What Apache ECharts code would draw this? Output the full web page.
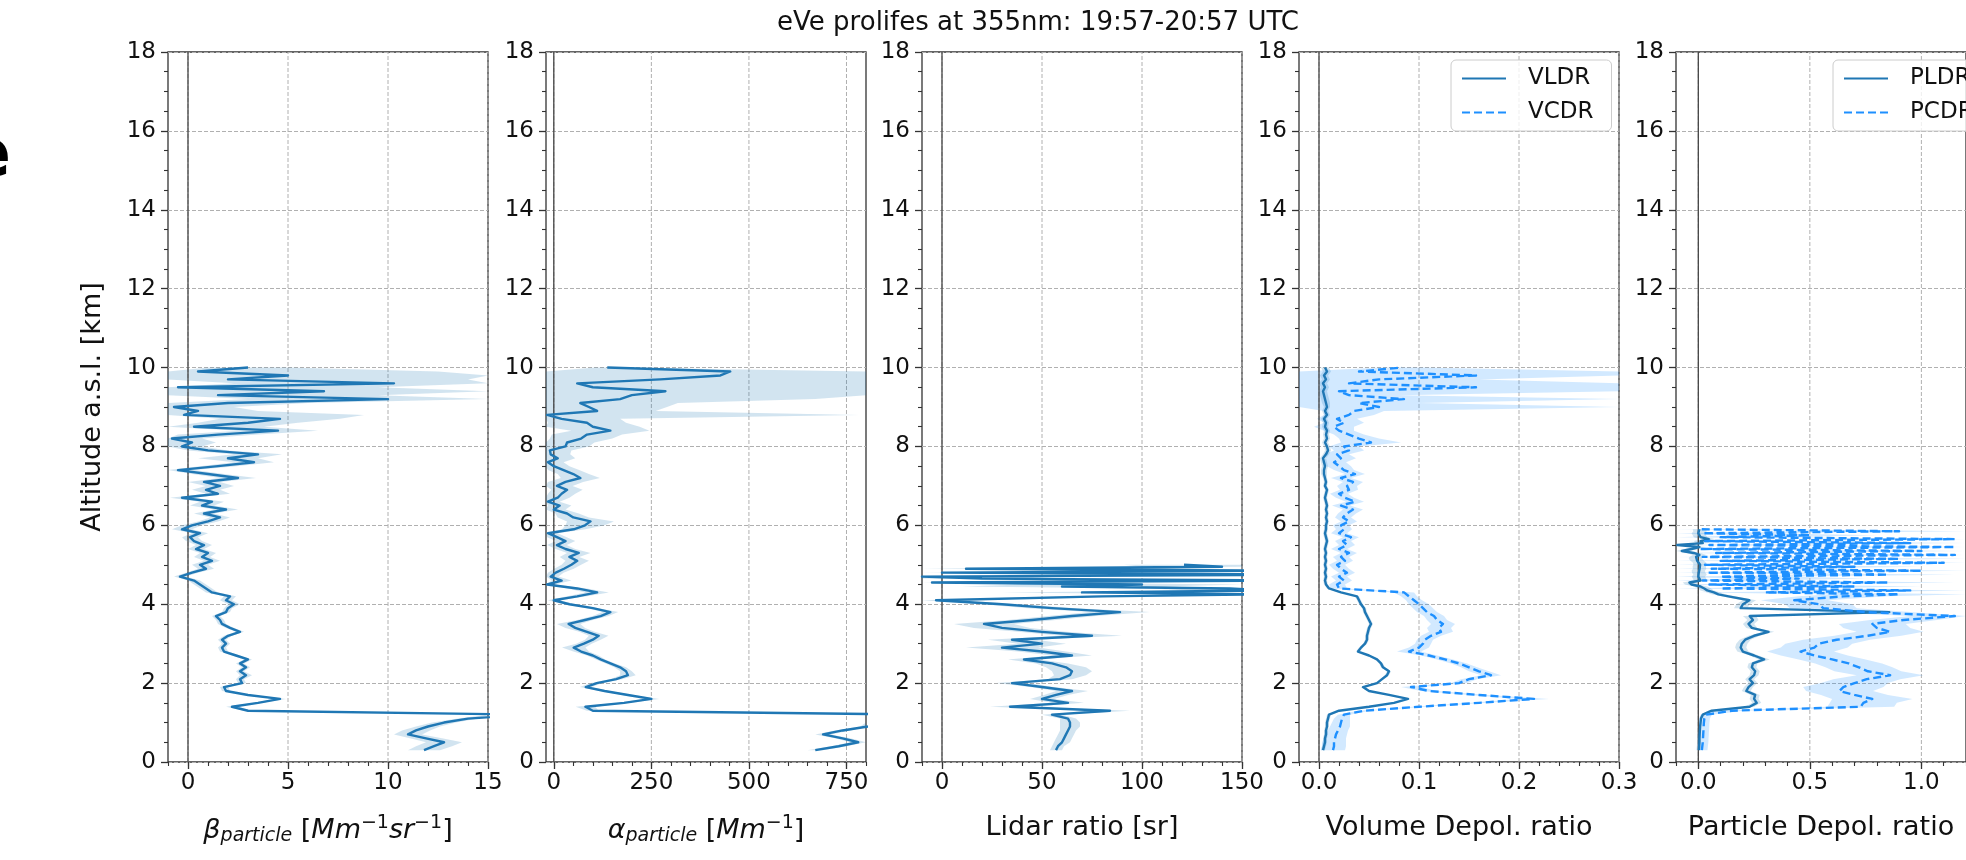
<!DOCTYPE html>
<html><head><meta charset="utf-8">
<script src="https://cdn.jsdelivr.net/npm/echarts@6/dist/echarts.min.js"></script>
<style>html,body{margin:0;padding:0;background:#fff}#c{width:1966px;height:860px}</style>
</head><body><div id="c"></div>
<script>
// ---------------- DATA ----------------
const titleText = 'eVe prolifes at 355nm: 19:57-20:57 UTC';
const altTicks = [0, 2, 4, 6, 8, 10, 12, 14, 16, 18];

// altitude grids [km]
const altMain = [
  0.3,0.4,0.5,0.6,0.7,0.8,0.9,1.0,1.1,1.2,
  1.3,1.4,1.5,1.6,1.7,1.8,1.9,2.0,2.1,2.2,
  2.3,2.4,2.5,2.6,2.7,2.8,2.9,3.0,3.1,3.2,
  3.3,3.4,3.5,3.6,3.7,3.8,3.9,4.0,4.1,4.2,
  4.3,4.4,4.5,4.6,4.7,4.8,4.9,5.0,5.1,5.2,
  5.3,5.4,5.5,5.6,5.7,5.8,5.9,6.0,6.1,6.2,
  6.3,6.4,6.5,6.6,6.7,6.8,6.9,7.0,7.1,7.2,
  7.3,7.4,7.5,7.6,7.7,7.8,7.9,8.0,8.1,8.2,
  8.3,8.4,8.5,8.6,8.7,8.8,8.9,9.0,9.1,9.2,
  9.3,9.4,9.5,9.6,9.7,9.8,9.9,10.0];
const altLR = [
  0.3,0.4,0.5,0.6,0.7,0.8,0.9,1.0,1.1,1.2,
  1.3,1.4,1.5,1.6,1.7,1.8,1.9,2.0,2.1,2.2,
  2.3,2.4,2.5,2.6,2.7,2.8,2.9,3.0,3.1,3.2,
  3.3,3.4,3.5,3.6,3.7,3.8,3.9,4.0,4.1,4.2,
  4.25,4.3,4.35,4.4,4.45,4.5,4.55,4.6,4.65,4.7,
  4.75,4.8,4.85,4.9,4.95,5.0];
const altPDR = [
  0.3,0.4,0.5,0.6,0.7,0.8,0.9,1.0,1.1,1.2,
  1.3,1.4,1.5,1.6,1.7,1.8,1.9,2.0,2.1,2.2,
  2.3,2.4,2.5,2.6,2.7,2.8,2.9,3.0,3.1,3.2,
  3.3,3.4,3.5,3.6,3.7,3.8,3.9,4.0,4.1,4.2,
  4.25,4.3,4.35,4.4,4.45,4.5,4.55,4.6,4.65,4.7,
  4.75,4.8,4.85,4.9,4.95,5.0,5.05,5.1,5.15,5.2,
  5.25,5.3,5.35,5.4,5.45,5.5,5.55,5.6,5.65,5.7,
  5.75,5.8,5.85,5.9];

// backscatter coefficient [Mm-1 sr-1]
const beta = [
  11.8,12.3,12.8,11.9,11.0,11.4,12.0,12.8,14.0,17.0,
  3.0,2.2,3.5,4.6,3.0,1.9,1.8,2.7,2.6,2.9,
  2.6,2.9,2.6,3.0,2.4,1.8,1.7,1.9,1.7,2.0,
  2.6,2.1,1.7,1.6,1.4,1.9,2.0,2.3,1.9,2.1,
  1.2,0.9,0.6,0.3,-0.4,0.2,0.9,0.6,1.2,0.7,
  1.0,0.4,0.8,0.3,0.1,0.6,-0.3,0.2,1.0,1.6,
  0.8,1.9,0.7,1.2,-0.3,1.5,0.9,1.6,0.8,2.5,
  1.0,-0.5,1.5,3.3,2.0,3.5,1.0,-0.3,0.2,-0.8,
  1.5,4.5,0.3,3.0,4.6,-0.2,0.5,-0.7,2.0,10.0,
  1.5,6.8,-0.5,10.3,2.0,5.0,0.5,3.0];
const betaErr = [
  0.8,0.9,0.9,0.8,0.7,0.7,0.6,0.6,0.5,0.4,
  0.2,0.3,0.2,0.3,0.2,0.2,0.2,0.2,0.2,0.3,
  0.2,0.2,0.2,0.2,0.2,0.2,0.2,0.2,0.2,0.2,
  0.2,0.2,0.2,0.2,0.2,0.2,0.2,0.3,0.3,0.3,
  0.3,0.3,0.3,0.3,0.3,0.3,0.4,0.4,0.4,0.4,
  0.4,0.4,0.4,0.4,0.4,0.4,0.5,0.5,0.5,0.5,
  0.5,0.6,0.6,0.6,0.6,0.6,0.7,0.7,0.8,0.9,
  0.8,0.8,0.9,1.0,1.5,1.2,1.0,1.0,1.2,1.5,
  2.0,2.0,3.5,2.5,3.0,9.0,3.0,3.0,4.0,7.0,
  8.0,9.0,10.0,8.0,12.0,10.0,12.0,2.0];

// extinction coefficient [Mm-1]
const alpha = [
  670,730,780,740,690,740,805,850,900,950,
  100,81,180,250,190,130,82,110,160,190,
  185,170,145,120,100,70,51,77,100,115,
  85,55,38,80,120,145,100,40,0,60,
  111,60,-17,20,-8,5,26,45,60,40,
  64,30,8,30,8,-15,51,80,94,50,
  34,0,15,-15,10,20,34,8,30,68,
  50,25,0,-15,10,-8,-10,30,34,70,
  85,145,100,85,20,-17,111,90,68,170,
  200,286,100,60,273,427,452,137];
const alphaErr = [
  20,20,20,20,20,20,20,20,20,20,
  15,25,15,20,15,12,15,15,15,20,
  15,15,12,12,15,20,30,20,20,25,
  20,25,30,20,20,20,15,15,15,25,
  30,25,20,25,20,20,25,25,30,25,
  30,25,25,25,25,25,30,50,60,40,
  30,30,30,30,30,35,40,40,45,50,
  40,40,40,40,45,50,55,60,70,80,
  90,100,120,100,150,800,150,200,250,500,
  600,600,700,800,700,600,500,30];

// lidar ratio [sr]
const lidarRatio = [
  57,58,60,61,62,63,64,64,63,55,
  84,34,63,50,57,65,50,35,59,64,
  65,62,55,41,65,50,30,50,35,75,
  50,30,21,45,65,89,55,30,-3,80,
  160,70,165,144,60,100,-5,170,20,-10,
  180,0,170,12,140,121];
const lidarRatioErr = [
  3,3,4,4,4,4,5,5,4,5,
  10,10,8,6,6,8,6,8,6,8,
  10,10,8,8,10,12,18,12,12,15,
  12,14,15,12,12,15,12,10,10,20,
  40,40,40,40,50,60,40,50,40,50,
  40,50,50,40,40,30];

// volume depolarization ratios
const vldr = [
  0.004,0.005,0.006,0.006,0.007,0.007,0.008,0.008,0.009,0.010,
  0.020,0.050,0.075,0.089,0.070,0.050,0.044,0.058,0.063,0.068,
  0.070,0.064,0.062,0.058,0.050,0.039,0.042,0.046,0.048,0.048,
  0.049,0.050,0.052,0.050,0.048,0.046,0.045,0.042,0.040,0.038,
  0.022,0.010,0.007,0.006,0.007,0.006,0.007,0.006,0.007,0.006,
  0.007,0.006,0.007,0.008,0.007,0.006,0.007,0.007,0.008,0.007,
  0.008,0.007,0.008,0.007,0.006,0.007,0.008,0.006,0.007,0.006,
  0.005,0.005,0.006,0.005,0.004,0.007,0.009,0.008,0.006,0.008,
  0.007,0.008,0.006,0.007,0.005,0.008,0.006,0.008,0.007,0.006,
  0.005,0.004,0.006,0.004,0.007,0.005,0.008,0.006];
const vldrErr = [
  0.002,0.002,0.002,0.002,0.002,0.002,0.002,0.002,0.002,0.002,
  0.002,0.002,0.003,0.003,0.003,0.002,0.002,0.002,0.002,0.002,
  0.002,0.002,0.002,0.002,0.002,0.002,0.002,0.002,0.002,0.002,
  0.002,0.002,0.002,0.002,0.002,0.002,0.002,0.002,0.002,0.002,
  0.002,0.002,0.002,0.002,0.002,0.002,0.002,0.002,0.002,0.002,
  0.002,0.002,0.002,0.002,0.002,0.002,0.002,0.002,0.002,0.002,
  0.002,0.002,0.002,0.002,0.002,0.002,0.002,0.002,0.002,0.002,
  0.003,0.003,0.003,0.003,0.003,0.003,0.003,0.003,0.003,0.003,
  0.003,0.003,0.003,0.003,0.003,0.003,0.003,0.003,0.004,0.004,
  0.004,0.004,0.004,0.004,0.004,0.004,0.004,0.004];
const vcdr = [
  0.014,0.015,0.015,0.016,0.017,0.019,0.021,0.022,0.023,0.025,
  0.045,0.100,0.160,0.215,0.160,0.110,0.092,0.140,0.150,0.172,
  0.160,0.150,0.140,0.126,0.110,0.090,0.100,0.104,0.106,0.112,
  0.122,0.120,0.124,0.118,0.115,0.108,0.104,0.100,0.095,0.090,
  0.085,0.020,0.018,0.025,0.020,0.028,0.022,0.018,0.026,0.022,
  0.030,0.020,0.028,0.024,0.032,0.020,0.025,0.022,0.030,0.024,
  0.028,0.034,0.022,0.036,0.026,0.020,0.030,0.028,0.034,0.022,
  0.036,0.025,0.020,0.015,0.022,0.018,0.030,0.025,0.052,0.040,
  0.030,0.020,0.015,0.025,0.018,0.030,0.035,0.060,0.040,0.085,
  0.030,0.020,0.157,0.030,0.060,0.157,0.040,0.083];
const vcdrErr = [
  0.012,0.012,0.012,0.011,0.011,0.010,0.010,0.009,0.008,0.006,
  0.006,0.006,0.008,0.015,0.010,0.008,0.010,0.008,0.008,0.010,
  0.010,0.008,0.008,0.008,0.008,0.012,0.010,0.008,0.008,0.010,
  0.012,0.012,0.012,0.010,0.010,0.010,0.010,0.010,0.008,0.008,
  0.010,0.008,0.008,0.008,0.008,0.008,0.008,0.008,0.008,0.008,
  0.008,0.008,0.008,0.008,0.008,0.008,0.008,0.008,0.008,0.008,
  0.009,0.010,0.009,0.009,0.009,0.009,0.009,0.010,0.010,0.010,
  0.010,0.010,0.012,0.012,0.015,0.012,0.015,0.015,0.030,0.020,
  0.015,0.015,0.020,0.020,0.020,0.025,0.030,0.320,0.060,0.320,
  0.050,0.320,0.320,0.320,0.100,0.320,0.320,0.020];

// particle depolarization ratios
const pldr = [
  0.003,0.004,0.005,0.005,0.006,0.007,0.008,0.010,0.012,0.020,
  0.060,0.230,0.262,0.250,0.255,0.215,0.225,0.245,0.230,0.250,
  0.255,0.240,0.245,0.295,0.250,0.200,0.190,0.195,0.210,0.250,
  0.315,0.240,0.225,0.245,0.230,0.856,0.190,0.200,0.229,0.135,
  0.090,0.070,0.040,0.027,0.010,-0.030,-0.040,0.010,0.005,0.000,
  0.008,0.002,0.000,0.006,0.004,0.008,0.006,-0.005,-0.013,-0.010,
  0.005,-0.020,-0.074,-0.030,0.005,-0.094,0.020,0.010,0.047,0.010,
  0.005,0.000,0.008,0.005];
const pldrErr = [
  0.005,0.005,0.005,0.005,0.005,0.005,0.005,0.005,0.005,0.008,
  0.015,0.020,0.020,0.020,0.020,0.020,0.020,0.020,0.020,0.020,
  0.020,0.020,0.020,0.025,0.020,0.025,0.025,0.025,0.025,0.025,
  0.025,0.025,0.025,0.025,0.030,0.030,0.030,0.030,0.030,0.030,
  0.030,0.030,0.030,0.030,0.030,0.030,0.030,0.030,0.030,0.030,
  0.030,0.030,0.030,0.030,0.030,0.030,0.030,0.030,0.030,0.030,
  0.030,0.030,0.030,0.030,0.030,0.030,0.030,0.030,0.030,0.030,
  0.030,0.030,0.030,0.030];
const pcdr = [
  0.016,0.018,0.020,0.021,0.022,0.023,0.024,0.025,0.027,0.035,
  0.150,0.728,0.740,0.780,0.700,0.633,0.650,0.700,0.755,0.860,
  0.760,0.720,0.674,0.600,0.520,0.458,0.520,0.540,0.620,0.760,
  0.860,0.800,0.780,0.920,1.150,0.750,0.560,0.540,0.430,0.650,
  0.900,0.300,0.950,0.100,0.700,0.050,0.850,0.020,0.450,0.100,
  0.850,0.040,1.000,0.060,0.700,0.030,1.100,0.100,0.900,0.020,
  1.150,0.080,1.000,0.010,1.150,0.050,0.950,0.030,1.150,0.100,
  0.500,0.020,0.900,0.010];
const pcdrErr = [
  0.025,0.025,0.025,0.025,0.025,0.025,0.025,0.025,0.025,0.025,
  0.050,0.150,0.150,0.180,0.150,0.150,0.180,0.150,0.150,0.150,
  0.150,0.150,0.150,0.150,0.150,0.150,0.150,0.150,0.150,0.150,
  0.150,0.150,0.150,0.150,0.200,0.200,0.150,0.150,0.150,0.200,
  0.300,0.300,0.300,0.300,0.300,0.300,0.300,0.300,0.300,0.300,
  0.300,0.300,0.300,0.300,0.300,0.300,0.300,0.300,0.300,0.300,
  0.300,0.300,0.300,0.300,0.300,0.300,0.300,0.300,0.300,0.300,
  0.300,0.300,0.300,0.300];

// x tick values
const xMajorBeta = [0, 5, 10, 15];
const xMinorBeta = [-1,0,1,2,3,4,5,6,7,8,9,10,11,12,13,14,15];
const xMajorAlpha = [0, 250, 500, 750];
const xMinorAlpha = [0,50,100,150,200,250,300,350,400,450,500,550,600,650,700,750,800];
const xMajorLR = [0, 50, 100, 150];
const xMinorLR = [-10,0,10,20,30,40,50,60,70,80,90,100,110,120,130,140,150];
const xMajorVDR = [0, 0.1, 0.2, 0.3];
const xMinorVDR = [-0.02,0,0.02,0.04,0.06,0.08,0.1,0.12,0.14,0.16,0.18,0.2,0.22,0.24,0.26,0.28,0.3];
const xMajorPDR = [0, 0.5, 1.0];
const xMinorPDR = [-0.1,0,0.1,0.2,0.3,0.4,0.5,0.6,0.7,0.8,0.9,1.0,1.1,1.2];

// ---------------- CHART ----------------
const FONT = 'DejaVu Sans';
const TXT = '#111';
const AX = '#333';
const C1 = '#1f77b4', C2 = '#1e90ff';
const B1 = 'rgba(31,119,180,0.2)', B2 = 'rgba(30,144,255,0.2)';
const GL = [168, 546, 922, 1299, 1676];
const TOP = 52, H = 710, W = 320;

const panels = [
  {min:-1, max:15, major:xMajorBeta, minor:xMinorBeta, dec:0,
   name:'{g|β}{s|particle} {n|[}{i|Mm}{p|−1}{i|sr}{p|−1}{n|]}'},
  {min:-20, max:800, major:xMajorAlpha, minor:xMinorAlpha, dec:0,
   name:'{g|α}{s|particle} {n|[}{i|Mm}{p|−1}{n|]}'},
  {min:-10, max:150, major:xMajorLR, minor:xMinorLR, dec:0, name:'Lidar ratio [sr]'},
  {min:-0.02, max:0.3, major:xMajorVDR, minor:xMinorVDR, dec:1, name:'Volume Depol. ratio'},
  {min:-0.1, max:1.2, major:xMajorPDR, minor:xMinorPDR, dec:1, name:'Particle Depol. ratio'}
];

const rich = {
  g: {fontFamily:FONT, fontStyle:'italic', fontSize:27, color:TXT},
  s: {fontFamily:FONT, fontStyle:'italic', fontSize:19, color:TXT, padding:[12,0,0,0]},
  n: {fontFamily:FONT, fontSize:27, color:TXT},
  i: {fontFamily:FONT, fontStyle:'italic', fontSize:27, color:TXT},
  p: {fontFamily:FONT, fontSize:19, color:TXT, padding:[0,0,14,0]}
};

const grid = GL.map(l => ({left:l, top:TOP, width:W, height:H, show:true,
  borderColor:AX, borderWidth:1.3, backgroundColor:'transparent'}));

const xAxis = [];
const yAxis = [];
panels.forEach((p, i) => {
  xAxis.push({
    gridIndex:i, type:'value', position:'bottom', min:p.min, max:p.max,
    axisLine:{show:false, onZero:false},
    axisTick:{show:true, length:7, lineStyle:{color:AX, width:1.3}, customValues:p.major},
    axisLabel:{show:true, customValues:p.major, margin:10, fontSize:23, fontFamily:FONT, color:TXT,
      formatter: v => Number(v).toFixed(p.dec)},
    splitLine:{show:false},
    name:p.name, nameLocation:'middle', nameGap:52,
    nameTextStyle:{fontFamily:FONT, fontSize:27, color:TXT, rich:rich}
  });
  xAxis.push({
    gridIndex:i, type:'value', position:'bottom', min:p.min, max:p.max,
    axisLine:{show:false, onZero:false},
    axisTick:{show:true, length:4, lineStyle:{color:AX, width:1.1}, customValues:p.minor},
    axisLabel:{show:false}, splitLine:{show:false}
  });
  yAxis.push({
    gridIndex:i, type:'value', min:0, max:18, interval:2,
    axisLine:{show:false, onZero:false},
    axisTick:{show:true, length:7, lineStyle:{color:AX, width:1.3}},
    minorTick:{show:true, splitNumber:4, length:4, lineStyle:{color:AX, width:1.1}},
    axisLabel:{margin:12, fontSize:23, fontFamily:FONT, color:TXT},
    splitLine:{show:true, lineStyle:{color:'#b0b0b0', width:1, type:[4,2]}},
    name: i === 0 ? 'Altitude a.s.l. [km]' : '',
    nameLocation:'middle', nameGap:62,
    nameTextStyle:{fontFamily:FONT, fontSize:27, color:TXT}
  });
});

function bandSeries(pi, alt, val, err, fill) {
  return {
    type:'custom', xAxisIndex:2*pi, yAxisIndex:pi, silent:true, z:2, data:[[0, 0]],
    renderItem: function (params, api) {
      const cs = params.coordSys;
      const lo = cs.x, hi = cs.x + cs.width;
      const pts = [];
      for (let k = 0; k < alt.length; k++) pts.push(api.coord([val[k] + err[k], alt[k]]));
      for (let k = alt.length - 1; k >= 0; k--) pts.push(api.coord([val[k] - err[k], alt[k]]));
      pts.forEach(q => { q[0] = Math.max(lo, Math.min(hi, q[0])); });
      return {type:'polygon', shape:{points:pts}, style:{fill:fill}, silent:true};
    }
  };
}
function lineSeries(name, pi, alt, val, color, dashed) {
  return {
    type:'line', name:name, xAxisIndex:2*pi, yAxisIndex:pi,
    data: alt.map((a, k) => [val[k], a]),
    symbol:'none', showSymbol:false, color:color, silent:true, z:4, clip:true,
    lineStyle:{color:color, width:2.4, type: dashed ? [8, 4] : 'solid', join:'round'}
  };
}
function vline(pi, x, style, z) {
  return {type:'line', xAxisIndex:2*pi, yAxisIndex:pi, data:[[x, 0], [x, 18]],
    symbol:'none', silent:true, z:z, lineStyle:style};
}

const series = [];
panels.forEach((p, i) => {
  p.major.forEach(v => series.push(vline(i, v, {color:'#b0b0b0', width:1, type:[4,2]}, 1)));
  series.push(vline(i, 0, {color:'#444', width:1.3, type:'solid'}, 3));
});
series.push(bandSeries(0, altMain, beta, betaErr, B1));
series.push(lineSeries('beta', 0, altMain, beta, C1, false));
series.push(bandSeries(1, altMain, alpha, alphaErr, B1));
series.push(lineSeries('alpha', 1, altMain, alpha, C1, false));
series.push(bandSeries(2, altLR, lidarRatio, lidarRatioErr, B1));
series.push(lineSeries('LR', 2, altLR, lidarRatio, C1, false));
series.push(bandSeries(3, altMain, vldr, vldrErr, B1));
series.push(bandSeries(3, altMain, vcdr, vcdrErr, B2));
series.push(lineSeries('VLDR', 3, altMain, vldr, C1, false));
series.push(lineSeries('VCDR', 3, altMain, vcdr, C2, true));
series.push(bandSeries(4, altPDR, pldr, pldrErr, B1));
series.push(bandSeries(4, altPDR, pcdr, pcdrErr, B2));
series.push(lineSeries('PLDR', 4, altPDR, pldr, C1, false));
series.push(lineSeries('PCDR', 4, altPDR, pcdr, C2, true));

const legendBase = {
  orient:'vertical', top:60, itemWidth:44, itemHeight:14, itemGap:11,
  padding:[7, 18, 7, 10], borderColor:'#cccccc', borderWidth:1, borderRadius:5,
  backgroundColor:'rgba(255,255,255,0.8)', selectedMode:false,
  itemStyle:{opacity:0},
  textStyle:{fontFamily:FONT, fontSize:23, color:TXT, padding:[0,0,0,17]}
};

const chart = echarts.init(document.getElementById('c'), null, {renderer:'canvas'});
chart.setOption({
  animation:false,
  backgroundColor:'#ffffff',
  grid: grid, xAxis: xAxis, yAxis: yAxis, series: series,
  legend: [
    Object.assign({}, legendBase, {left:1451, data:['VLDR', 'VCDR']}),
    Object.assign({}, legendBase, {left:1833, data:['PLDR', 'PCDR']})
  ],
  graphic: [
    {type:'text', x:1038, y:23, silent:true,
     style:{text:titleText, fontFamily:FONT, fontSize:26, fill:TXT, align:'center', verticalAlign:'middle'}},
    {type:'text', x:11, y:158, silent:true,
     style:{text:'e', fontFamily:FONT, fontSize:68, fontWeight:'bold', fill:'#000', align:'right', verticalAlign:'middle'}}
  ]
});
</script></body></html>
